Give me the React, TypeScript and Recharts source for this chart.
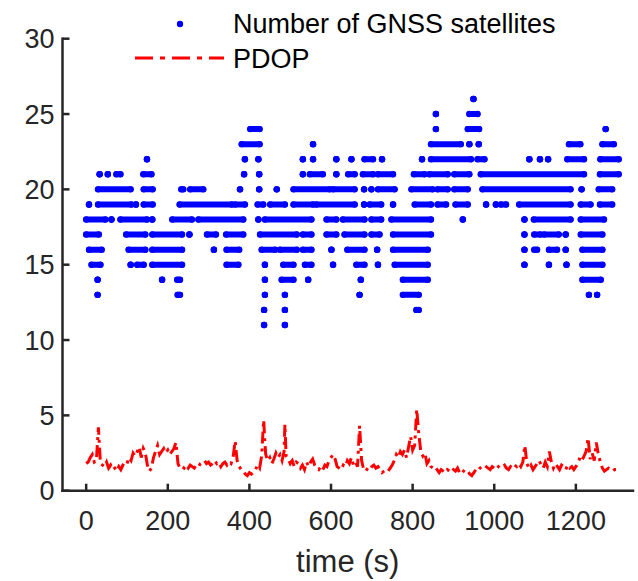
import React from 'react';
import { LineChart, Line, XAxis, YAxis } from 'recharts';

const xTicks = [0, 200, 400, 600, 800, 1000, 1200];
const yTicks = [0, 5, 10, 15, 20, 25, 30];

// Satellite counts: for each level, runs of time [start, end] (s) where dots appear
const sat26 = [[949, 949]];
const sat25 = [[857, 857], [939, 959]];
const sat24 = [[402, 425], [857, 857], [935, 963], [1273, 1273]];
const sat23 = [[381, 425], [556, 556], [845, 918], [939, 939], [962, 962], [1183, 1211], [1265, 1293]];
const sat22 = [[149, 149], [389, 389], [422, 422], [531, 531], [556, 556], [613, 613], [650, 650], [682, 703], [725, 725], [823, 823], [845, 943], [959, 976], [1086, 1086], [1112, 1112], [1132, 1132], [1179, 1220], [1260, 1305]];
const sat21 = [[33, 33], [53, 53], [74, 84], [140, 160], [387, 387], [424, 424], [531, 531], [548, 580], [613, 613], [642, 658], [678, 703], [715, 752], [803, 829], [841, 886], [902, 939], [967, 1220], [1259, 1305]];
const sat20 = [[29, 109], [141, 163], [233, 238], [255, 287], [377, 377], [424, 424], [467, 467], [508, 597], [605, 658], [681, 681], [699, 699], [715, 756], [797, 849], [861, 886], [902, 935], [971, 1187], [1214, 1214], [1256, 1289]];
const sat19 = [[7, 7], [29, 111], [122, 122], [141, 163], [229, 357], [365, 389], [420, 434], [451, 487], [508, 556], [564, 658], [681, 681], [695, 723], [752, 752], [805, 845], [861, 882], [905, 935], [980, 980], [1004, 1004], [1016, 1029], [1061, 1187], [1212, 1236], [1259, 1289]];
const sat18 = [[0, 47], [62, 62], [84, 149], [162, 162], [211, 259], [275, 385], [422, 422], [438, 552], [589, 613], [629, 682], [699, 723], [748, 845], [923, 923], [1074, 1074], [1097, 1187], [1212, 1269]];
const sat17 = [[0, 31], [98, 145], [162, 235], [253, 253], [296, 318], [343, 385], [426, 516], [531, 552], [589, 613], [633, 682], [699, 719], [752, 845], [1074, 1074], [1098, 1113], [1122, 1158], [1175, 1175], [1212, 1265]];
const sat16 = [[7, 38], [104, 145], [162, 235], [313, 313], [344, 375], [430, 463], [475, 516], [531, 552], [601, 601], [640, 682], [713, 713], [752, 837], [1074, 1074], [1098, 1105], [1134, 1154], [1175, 1175], [1216, 1265]];
const sat15 = [[13, 35], [109, 109], [125, 141], [162, 235], [344, 373], [438, 438], [483, 508], [536, 552], [605, 605], [662, 682], [715, 715], [756, 837], [1074, 1074], [1134, 1134], [1177, 1177], [1216, 1265]];
const sat14 = [[28, 28], [186, 186], [223, 230], [438, 438], [479, 508], [544, 544], [673, 673], [776, 837], [1216, 1261]];
const sat13 = [[28, 28], [224, 230], [438, 438], [487, 487], [670, 670], [776, 815], [1232, 1232], [1252, 1252]];
const sat12 = [[436, 436], [487, 487], [809, 815]];
const sat11 = [[436, 436], [487, 487]];

const satLevels = [26, 25, 24, 23, 22, 21, 20, 19, 18, 17, 16, 15, 14, 13, 12, 11];
const satRuns = [sat26, sat25, sat24, sat23, sat22, sat21, sat20, sat19, sat18, sat17, sat16, sat15, sat14, sat13, sat12, sat11];

// PDOP: [time (s), value]
const pdop = [
  [0, 1.8], [5, 1.9], [10, 2.2], [15, 2.4], [20, 1.9], [25, 2.0], [30, 4.2], [35, 1.8], [40, 1.7], [45, 1.6],
  [50, 1.9], [55, 1.5], [60, 1.7], [65, 1.4], [70, 1.5], [75, 1.3], [80, 1.6], [85, 1.4], [90, 1.7], [95, 1.9],
  [100, 1.8], [105, 2.2], [110, 2.0], [115, 2.5], [120, 2.3], [125, 2.6], [130, 2.9], [135, 2.2], [140, 2.8], [145, 2.5],
  [150, 1.7], [155, 1.3], [160, 1.5], [165, 2.2], [170, 2.6], [175, 3.0], [180, 2.4], [185, 2.6], [190, 2.8], [195, 2.5],
  [200, 2.7], [205, 2.4], [210, 2.6], [215, 2.8], [220, 3.2], [225, 1.8], [230, 1.5], [235, 1.6], [240, 1.5], [245, 1.7],
  [250, 1.5], [255, 1.7], [260, 1.6], [265, 1.5], [270, 1.7], [275, 1.6], [280, 1.8], [285, 1.9], [290, 2.0], [295, 1.8],
  [300, 1.9], [305, 1.7], [310, 1.8], [315, 2.0], [320, 1.8], [325, 1.9], [330, 1.6], [335, 1.8], [340, 1.9], [345, 1.7],
  [350, 1.9], [355, 1.8], [360, 2.2], [365, 3.3], [370, 2.0], [375, 1.6], [380, 1.4], [385, 1.3], [390, 1.1], [395, 1.0],
  [400, 1.2], [405, 1.1], [410, 1.2], [415, 1.4], [420, 1.7], [425, 1.5], [430, 2.3], [435, 4.7], [438, 3.2], [440, 2.4],
  [445, 2.0], [450, 2.2], [455, 1.8], [460, 2.1], [465, 2.5], [470, 2.2], [475, 2.4], [480, 2.0], [485, 2.6], [487, 4.4],
  [490, 2.3], [495, 2.1], [500, 1.8], [505, 2.0], [510, 1.6], [515, 1.9], [520, 1.8], [525, 1.5], [530, 1.7], [535, 1.4],
  [540, 1.9], [545, 1.6], [550, 1.9], [555, 2.1], [560, 1.7], [565, 1.5], [570, 1.4], [575, 1.6], [580, 1.4], [585, 1.7],
  [590, 1.6], [595, 2.0], [600, 2.2], [605, 2.4], [610, 2.1], [615, 1.6], [620, 1.5], [625, 1.4], [630, 1.7], [635, 1.6],
  [640, 2.0], [645, 1.8], [650, 2.2], [655, 1.7], [660, 1.9], [665, 1.6], [670, 4.3], [675, 2.0], [680, 1.4], [685, 1.3],
  [690, 1.5], [695, 1.4], [700, 1.6], [705, 1.7], [710, 1.5], [715, 1.6], [720, 1.4], [725, 1.2], [730, 1.3], [735, 1.4],
  [740, 1.3], [745, 1.5], [750, 1.7], [755, 2.0], [760, 2.4], [765, 2.2], [770, 2.6], [775, 2.4], [780, 2.7], [785, 2.2],
  [790, 2.9], [795, 3.6], [800, 2.7], [805, 3.0], [810, 5.4], [815, 3.8], [820, 2.6], [825, 2.3], [830, 2.5], [835, 1.8],
  [840, 2.0], [845, 1.6], [850, 1.5], [855, 1.3], [860, 1.4], [865, 1.2], [870, 1.4], [875, 1.3], [880, 1.2], [885, 1.4],
  [890, 1.3], [895, 1.2], [900, 1.4], [905, 1.3], [910, 1.5], [915, 1.2], [920, 1.4], [925, 1.3], [930, 1.2], [935, 1.3],
  [940, 1.1], [945, 1.0], [950, 1.2], [955, 1.4], [960, 1.3], [965, 1.5], [970, 1.6], [975, 1.7], [980, 1.6], [985, 1.5],
  [990, 1.4], [995, 1.6], [1000, 1.5], [1005, 1.7], [1010, 1.6], [1015, 1.5], [1020, 1.6], [1025, 1.7], [1030, 1.5], [1035, 1.4],
  [1040, 1.6], [1045, 1.5], [1050, 1.7], [1055, 1.6], [1060, 1.8], [1065, 1.6], [1070, 1.9], [1075, 3.0], [1080, 1.8], [1085, 1.5],
  [1090, 1.7], [1095, 1.4], [1100, 1.6], [1105, 1.8], [1110, 2.0], [1115, 1.7], [1120, 1.5], [1125, 1.9], [1130, 1.6], [1135, 2.6],
  [1140, 1.9], [1145, 1.5], [1150, 1.8], [1155, 1.6], [1160, 1.4], [1165, 1.7], [1170, 1.6], [1175, 1.4], [1180, 1.7], [1185, 1.5],
  [1190, 1.6], [1195, 1.4], [1200, 1.6], [1205, 1.8], [1210, 2.2], [1215, 2.0], [1220, 2.3], [1225, 2.6], [1230, 3.5], [1235, 2.1],
  [1240, 2.5], [1245, 2.0], [1250, 3.2], [1255, 2.4], [1260, 1.9], [1265, 1.5], [1270, 1.3], [1275, 1.4], [1280, 1.5], [1285, 1.4],
  [1290, 1.3], [1295, 1.4], [1300, 1.4],
];

const FONT = '"Liberation Sans", Arial, Helvetica, sans-serif';
const AXIS = '#262626';
const BLUE = '#0000FF';
const RED = '#FF0000';
const TICK_LEN = 7;
const TICK_FONT = 27;

const pdopData = pdop.map(([t, v]) => ({ t, v }));

const satSeries = satLevels.map((level, i) => {
  const pts: { t: number; v: number | null }[] = [];
  satRuns[i].forEach(([s, e]) => {
    pts.push({ t: s, v: level });
    pts.push({ t: e, v: level });
    pts.push({ t: e, v: null });
  });
  return { level, pts };
});

const BottomTick = (p: any) => (
  <g>
    <line x1={p.x} y1={p.y} x2={p.x} y2={p.y - TICK_LEN} stroke={AXIS} strokeWidth={2.5} />
    <text x={p.x} y={p.y + 39} textAnchor="middle" fontSize={TICK_FONT} fill={AXIS} fontFamily={FONT}>
      {p.payload.value}
    </text>
  </g>
);
const TopTick = (p: any) => (
  <line x1={p.x} y1={p.y} x2={p.x} y2={p.y + TICK_LEN} stroke={AXIS} strokeWidth={2.5} />
);
const LeftTick = (p: any) => (
  <g>
    <line x1={p.x} y1={p.y} x2={p.x + TICK_LEN} y2={p.y} stroke={AXIS} strokeWidth={2.5} />
    <text x={p.x - 8} y={p.y} dy="0.36em" textAnchor="end" fontSize={TICK_FONT} fill={AXIS} fontFamily={FONT}>
      {p.payload.value}
    </text>
  </g>
);
const RightTick = (p: any) => (
  <line x1={p.x} y1={p.y} x2={p.x - TICK_LEN} y2={p.y} stroke={AXIS} strokeWidth={2.5} />
);

const axisLineStyle = { stroke: AXIS, strokeWidth: 2.5, strokeLinecap: 'square' as const };

const XLabel = (p: any) => {
  const vb = p.viewBox || {};
  return (
    <text x={vb.x + vb.width / 2} y={vb.y + 81} textAnchor="middle" fontSize={31} fill={AXIS} fontFamily={FONT}>
      time (s)
    </text>
  );
};

export default function App() {
  return (
    <div style={{ position: 'absolute', left: 0, top: 0, width: 638, height: 581, background: '#fff', overflow: 'hidden' }}>
      <LineChart width={638} height={581} margin={{ top: 38.7, right: 5, bottom: 0, left: 0 }}>
        <XAxis
          xAxisId="b"
          dataKey="t"
          type="number"
          domain={[-58, 1340]}
          ticks={xTicks}
          interval={0}
          allowDataOverflow
          height={90.3}
          tickSize={0}
          tickMargin={0}
          tickLine={false}
          axisLine={axisLineStyle}
          tick={BottomTick}
          label={<XLabel />}
        />
        <XAxis
          xAxisId="top"
          orientation="top"
          dataKey="t"
          type="number"
          domain={[-58, 1340]}
          ticks={xTicks}
          interval={0}
          allowDataOverflow
          height={0}
          tickSize={0}
          tickMargin={0}
          tickLine={false}
          axisLine={axisLineStyle}
          tick={TopTick}
        />
        <YAxis
          yAxisId="l"
          type="number"
          domain={[0, 30]}
          ticks={yTicks}
          interval={0}
          allowDataOverflow
          width={62.5}
          tickSize={0}
          tickMargin={0}
          tickLine={false}
          axisLine={axisLineStyle}
          tick={LeftTick}
        />
        <YAxis
          yAxisId="r"
          orientation="right"
          type="number"
          domain={[0, 30]}
          ticks={yTicks}
          interval={0}
          allowDataOverflow
          width={0}
          tickSize={0}
          tickMargin={0}
          tickLine={false}
          axisLine={axisLineStyle}
          tick={RightTick}
        />
        {satSeries.map((s) => (
          <Line
            key={s.level}
            xAxisId="b"
            yAxisId="l"
            data={s.pts}
            dataKey="v"
            type="linear"
            stroke={BLUE}
            strokeWidth={6}
            strokeLinecap="round"
            connectNulls={false}
            dot={{ r: 3.2, fill: BLUE, stroke: 'none', strokeWidth: 0 }}
            activeDot={false}
            isAnimationActive={false}
            legendType="none"
          />
        ))}
        <Line
          xAxisId="b"
          yAxisId="l"
          data={pdopData}
          dataKey="v"
          type="linear"
          stroke={RED}
          strokeWidth={3}
          strokeDasharray="12 5 3 5"
          dot={false}
          activeDot={false}
          isAnimationActive={false}
        />
      </LineChart>
      <svg
        width={638}
        height={581}
        style={{ position: 'absolute', left: 0, top: 0, pointerEvents: 'none' }}
      >
        <rect x={124} y={0} width={444} height={72} fill="#fff" />
        <circle cx={180} cy={24} r={3.2} fill={BLUE} />
        <text x={233} y={23} dy="0.36em" fontSize={27} fill="#000" fontFamily={FONT}>
          Number of GNSS satellites
        </text>
        <line x1={135} y1={58} x2={224} y2={58} stroke={RED} strokeWidth={3} strokeDasharray="18 7 5 7" />
        <text x={233} y={58} dy="0.36em" fontSize={27} fill="#000" fontFamily={FONT}>
          PDOP
        </text>
      </svg>
    </div>
  );
}
